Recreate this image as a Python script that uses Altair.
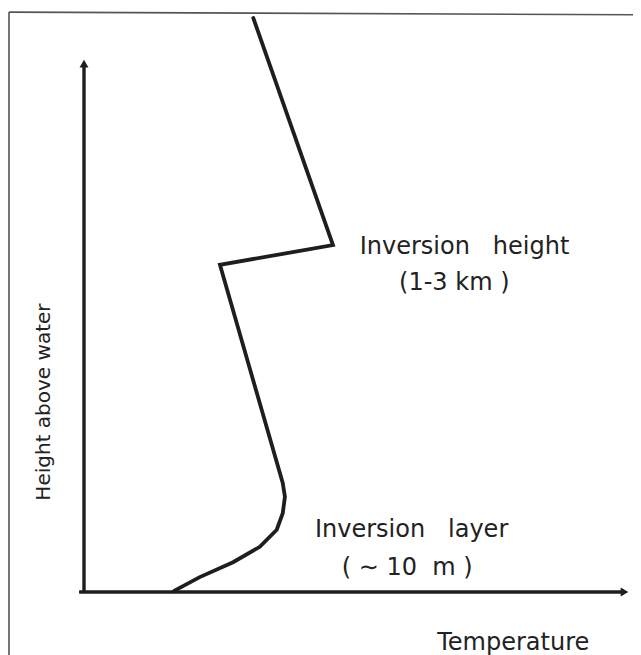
import altair as alt
import pandas as pd

# Schematic temperature profile (arbitrary units: temperature 0-100 along x axis, height 0-100 along y axis)
profile_temp = [16.5, 21.2, 27.3, 32.2, 35.3, 36.4, 36.8, 36.4, 24.9, 45.6, 31.0]
profile_height = [0.2, 2.8, 5.6, 8.5, 11.7, 14.8, 17.9, 20.5, 61.5, 65.2, 107.9]

# Annotation labels
label_text = ["Inversion\u00a0\u00a0\u00a0height", "(1-3\u00a0km\u00a0)",
              "Inversion\u00a0\u00a0\u00a0layer", "(\u00a0\u223c\u00a010\u00a0\u00a0m\u00a0)", "Temperature"]
label_temp = [50.5, 57.7, 42.3, 47.2, 64.7]
label_height = [64.9, 58.0, 11.7, 4.5, -9.5]

y_title = "Height above water"

W, H = 625, 647
xs = alt.Scale(domain=[-13.92, 100.55], nice=False, zero=False)
ys = alt.Scale(domain=[-11.84, 109.77], nice=False, zero=False)

def X(f):
    return alt.X(f, type="quantitative", scale=xs, axis=None)

def Y(f):
    return alt.Y(f, type="quantitative", scale=ys, axis=None)

prof = pd.DataFrame({"t": profile_temp, "h": profile_height, "o": list(range(len(profile_temp)))})
line = alt.Chart(prof).mark_line(color="#1e1e1e", strokeWidth=3.8, strokeCap="round", strokeJoin="miter").encode(
    x=X("t"), y=Y("h"), order="o:O")

frame_df = pd.DataFrame({"t": [-13.74, -13.74], "h": [109.0, 109.0], "t2": [-13.74, 102.0], "h2": [-12.0, 108.5]})
frame = alt.Chart(frame_df).mark_rule(color="#555555", strokeWidth=1.6).encode(
    x=X("t"), y=Y("h"), x2="t2", y2="h2")

axes_df = pd.DataFrame({"t": [-0.9, 0.0], "h": [0.0, 0.0], "t2": [99.0, 0.0], "h2": [0.0, 99.0]})
axes = alt.Chart(axes_df).mark_rule(color="#1e1e1e", strokeWidth=3.4).encode(
    x=X("t"), y=Y("h"), x2="t2", y2="h2")

arrow_df = pd.DataFrame({"t": [99.0, 0.0], "h": [0.0, 99.3], "s": ["triangle-right", "triangle-up"]})
arrows = alt.Chart(arrow_df).mark_point(filled=True, color="#1e1e1e", opacity=1, size=80).encode(
    x=X("t"), y=Y("h"), shape=alt.Shape("s:N", scale=None, legend=None))

lab = pd.DataFrame({"txt": label_text, "t": label_temp, "h": label_height})
labels = alt.Chart(lab).mark_text(align="left", baseline="middle", font="DejaVu Sans", fontSize=24,
                                  color="#222222").encode(x=X("t"), y=Y("h"), text="txt:N")

ytitle = alt.Chart(pd.DataFrame({"txt": [y_title], "t": [-7.3], "h": [35.7]})).mark_text(
    align="center", baseline="middle", angle=270, font="DejaVu Sans", fontSize=20, color="#222222").encode(
    x=X("t"), y=Y("h"), text="txt:N")

chart = alt.layer(frame, axes, arrows, line, labels, ytitle).properties(
    width=W, height=H, padding=0, autosize=alt.AutoSizeParams(type="none")
).configure_view(stroke=None)

chart.save("out.html", embed_options={"renderer": "svg", "actions": False})
